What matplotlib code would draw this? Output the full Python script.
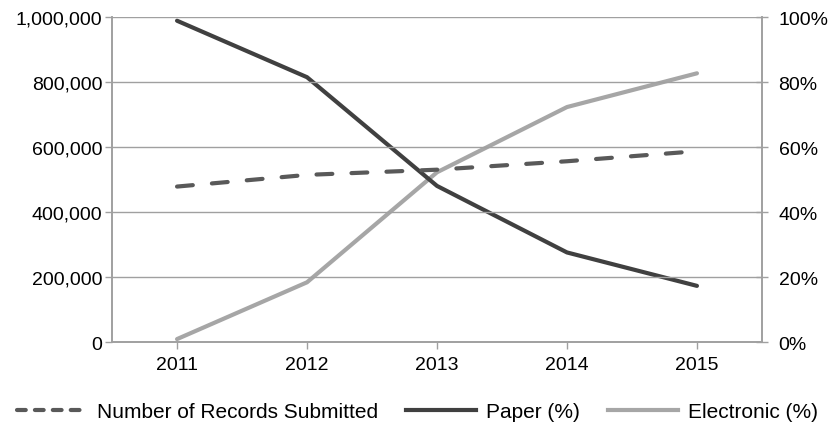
import matplotlib
matplotlib.use("Agg")
import matplotlib.pyplot as plt
from matplotlib.ticker import FuncFormatter, PercentFormatter
from matplotlib.lines import Line2D

years = ["2011", "2012", "2013", "2014", "2015"]
records = [479000, 515000, 531000, 557000, 588000]
paper_pct = [99.0, 81.6, 48.1, 27.6, 17.3]
electronic_pct = [0.9, 18.4, 52.3, 72.4, 82.8]

plt.rcParams['font.family'] = ['Liberation Sans', 'DejaVu Sans']

fig = plt.figure(figsize=(8.3, 4.27), dpi=100)
ax = fig.add_axes([0.135, 0.1967, 0.783, 0.76])
ax2 = ax.twinx()

x = list(range(len(years)))
grid_c = '#A0A0A0'
ax.set_xlim(-0.5, len(years) - 0.5)
ax.set_ylim(0, 1000000)
ax.set_yticks(range(0, 1000001, 200000))
ax.yaxis.set_major_formatter(FuncFormatter(lambda v, p: f"{int(v):,}"))
ax.grid(axis='y', color=grid_c, linewidth=1)
ax.set_axisbelow(True)
ax.set_xticks(x)
ax.set_xticklabels(years)

ax2.set_ylim(0, 100)
ax2.set_yticks(range(0, 101, 20))
ax2.yaxis.set_major_formatter(PercentFormatter(decimals=0))

for a in (ax, ax2):
    a.spines['top'].set_visible(False)
    for s in ('left', 'right', 'bottom'):
        a.spines[s].set_color(grid_c)
        a.spines[s].set_linewidth(1.2)
    a.tick_params(colors=grid_c, labelcolor='black', labelsize=14, length=5, width=1)
ax.tick_params(axis='x', pad=5)
ax.tick_params(axis='y', pad=2)
ax2.tick_params(axis='y', direction='inout', length=8, pad=8)

dash_c = '#595959'
paper_c = '#404040'
elec_c = '#A6A6A6'
lw = 3.0

ax2.plot(x, electronic_pct, color=elec_c, lw=lw, solid_capstyle='round', zorder=3)
ax2.plot(x, paper_pct, color=paper_c, lw=lw, solid_capstyle='round', zorder=4)
ax.plot(x, records, color=dash_c, lw=lw, linestyle=(0, (3.8, 4.6)), dash_capstyle='round', zorder=5)
ax.set_zorder(ax2.get_zorder() + 1)
ax.patch.set_visible(False)

handles = [
    Line2D([], [], color=dash_c, lw=lw, linestyle=(0, (2.1, 2.2)), dash_capstyle='round'),
    Line2D([], [], color=paper_c, lw=lw),
    Line2D([], [], color=elec_c, lw=lw),
]
labels = ["Number of Records Submitted", "Paper (%)", "Electronic (%)"]
fig.legend(handles, labels, loc='center', bbox_to_anchor=(0.503, 0.033), ncol=3,
           frameon=False, fontsize=15, handlelength=3.35, handletextpad=0.5,
           columnspacing=1.35, borderpad=0, borderaxespad=0)

fig.savefig("out.png", dpi=100)
